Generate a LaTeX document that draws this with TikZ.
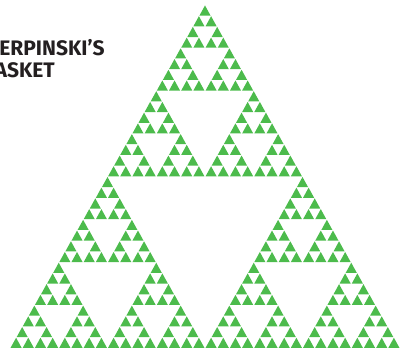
\documentclass[tikz,border=0pt]{standalone}
\usepackage{fontspec}
\setmainfont{Fira Sans}
\definecolor{gasket}{RGB}{76,187,76}
\definecolor{titleink}{RGB}{35,31,32}
\begin{document}
\begin{tikzpicture}[x=1pt,y=-1pt,
  tri/.style={fill=gasket},
  title/.style={anchor=base west,inner sep=0pt,text=titleink,font=\fontsize{21}{23}\selectfont\bfseries,align=left}]
\useasboundingbox (0,0) rectangle (402,352);
\def\w{12.1875}
\def\h{10.71875}
\def\g{0.45}
\foreach \ax/\ay in {0/0,-8/16,8/16}
 \foreach \bx/\by in {0/0,-4/8,4/8}
  \foreach \cx/\cy in {0/0,-2/4,2/4}
   \foreach \dx/\dy in {0/0,-1/2,1/2}
    \foreach \ex/\ey in {0/0,-0.5/1,0.5/1}{
      \pgfmathsetmacro\tx{205+(\ax+\bx+\cx+\dx+\ex)*\w}
      \pgfmathsetmacro\ty{5+(\ay+\by+\cy+\dy+\ey)*\h}
      \path[tri] (\tx,\ty+\g) -- (\tx-\w/2+1.2*\g,\ty+\h-0.3*\g) -- (\tx+\w/2-1.2*\g,\ty+\h-0.3*\g) -- cycle;
    }
\node[title] (t1) at (-19,56) {SIERPINSKI’S};
\node[title] (t2) at (-19,78) {GASKET};
\end{tikzpicture}
\end{document}
